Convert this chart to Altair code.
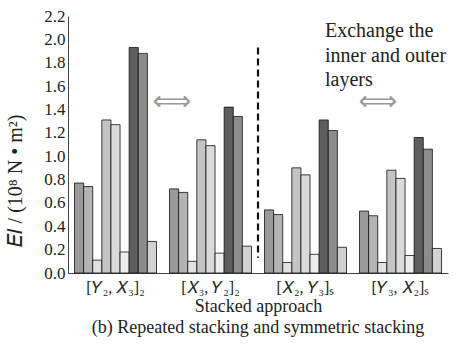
import altair as alt
import pandas as pd

groups = ["[𝑌₂, 𝑋₃]₂", "[𝑋₃, 𝑌₂]₂", "[𝑋₂, 𝑌₃]ₛ", "[𝑌₃, 𝑋₂]ₛ"]
series = ["s1", "s2", "s3", "s4", "s5", "s6", "s7", "s8", "s9"]
values = [
    [0.77, 0.74, 0.11, 1.31, 1.27, 0.18, 1.93, 1.88, 0.27],
    [0.72, 0.69, 0.10, 1.14, 1.09, 0.17, 1.42, 1.34, 0.23],
    [0.54, 0.50, 0.09, 0.90, 0.84, 0.16, 1.31, 1.22, 0.22],
    [0.53, 0.49, 0.09, 0.88, 0.81, 0.15, 1.16, 1.06, 0.21],
]
fills = ["#9a9a9a", "#b4b4b4", "#e2e2e2", "#c4c4c4", "#dadada", "#ededed", "#5e5e5e", "#8c8c8c", "#d2d2d2"]
y_ticks = [0.0, 0.2, 0.4, 0.6, 0.8, 1.0, 1.2, 1.4, 1.6, 1.8, 2.0, 2.2]

rows = []
for g, vals in zip(groups, values):
    for s, v in zip(series, vals):
        rows.append({"group": g, "series": s, "value": v})
df = pd.DataFrame(rows)

FONT = "Liberation Serif"

y_axis = alt.Axis(title=None, values=y_ticks, format=".1f", ticks=False,
                  grid=False, labelFont=FONT, labelFontSize=17,
                  labelColor="#222", labelPadding=3, domainColor="#444",
                  labelOverlap=False, labelFlush=False)
y_scale = alt.Scale(domain=[0, 2.2], nice=False)

bars = alt.Chart(df).mark_bar(stroke="#111", strokeWidth=0.8).encode(
    x=alt.X("group:N", sort=groups,
            scale=alt.Scale(paddingInner=0.137, paddingOuter=0.0685),
            axis=alt.Axis(title="Stacked approach", labelAngle=0, ticks=False,
                          labelFont=FONT, labelFontSize=16, labelColor="#222",
                          labelPadding=6, titleFont=FONT, titleFontSize=18,
                          titleFontWeight="normal", titleColor="#222", titlePadding=2,
                          domainColor="#444", labelOverlap=False)),
    xOffset=alt.XOffset("series:N", sort=series,
                        scale=alt.Scale(paddingInner=0, paddingOuter=0)),
    y=alt.Y("value:Q", scale=y_scale, axis=y_axis),
    fill=alt.Fill("series:N", sort=series,
                  scale=alt.Scale(domain=series, range=fills), legend=None),
)

dash = alt.Chart(pd.DataFrame({"a": [0]})).mark_rule(
    color="#111", strokeWidth=2.2, strokeDash=[7, 4]
).encode(x=alt.value(190), y=alt.YDatum(1.93, axis=y_axis, scale=y_scale),
         y2=alt.Y2Datum(0.13))

arrows = alt.Chart(pd.DataFrame({"xp": [104, 310]})).mark_text(
    text="⟺", font="DejaVu Sans", fontSize=27, color="#999"
).encode(x=alt.X("xp:Q", scale=None, axis=None),
         y=alt.YDatum(1.46, axis=y_axis, scale=y_scale))

note = alt.Chart(pd.DataFrame({"a": [0]})).mark_text(
    text=["Exchange the", "inner and outer", "layers"], font=FONT, fontSize=20,
    lineHeight=24.5, align="left", baseline="top", color="#222"
).encode(x=alt.value(257), y=alt.value(5))

ytitle = alt.Chart(pd.DataFrame({"a": [0]})).mark_text(
    text="𝐸𝐼 / (10⁸ N • m²)", font=FONT, fontSize=20, angle=270, color="#222"
).encode(x=alt.value(-52), y=alt.value(165))

chart = alt.layer(bars, dash, arrows, note, ytitle).properties(
    width=380, height=257,
    title=alt.TitleParams("(b) Repeated stacking and symmetric stacking", orient="bottom",
                          font=FONT, fontSize=18, fontWeight="normal", color="#222", offset=4),
    padding={"left": 68, "top": 16, "right": 9, "bottom": 77},
    autosize=alt.AutoSizeParams(type="none"),
).configure_view(stroke=None).configure_axis(labelFont=FONT, titleFont=FONT)

chart.save("out.html", embed_options={"renderer": "svg", "actions": False})
